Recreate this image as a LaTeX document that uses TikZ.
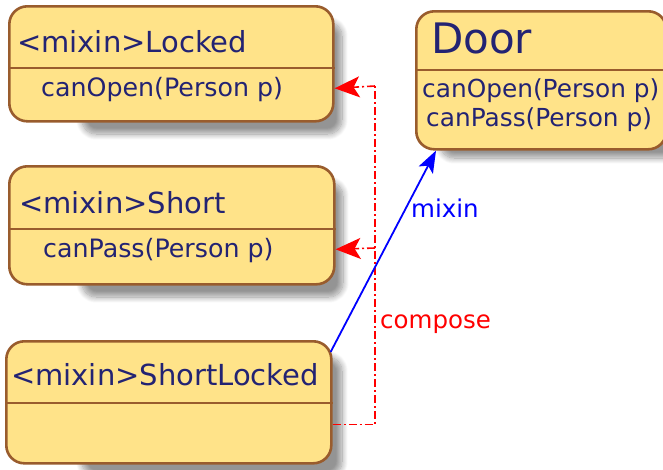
\documentclass[tikz,border=0pt]{standalone}
\usepackage{fontspec}
\setmainfont{DejaVu Sans}
\usetikzlibrary{arrows.meta,shadows.blur}
\definecolor{boxfill}{RGB}{255,227,137}
\definecolor{boxline}{RGB}{153,92,45}
\definecolor{txt}{RGB}{35,35,115}
\tikzset{
  umlbox/.style={draw=boxline, fill=boxfill, line width=2.6pt, rounded corners=18pt, inner sep=0pt, anchor=north west},
  sep/.style={draw=boxline, line width=2.6pt},
  shad/.style={blur shadow={shadow xshift=0pt, shadow yshift=0pt, shadow blur radius=6pt, shadow opacity=42, shadow blur steps=12}},
  titletext/.style={anchor=base west, inner sep=0pt, text=txt, font=\fontsize{29}{31}\selectfont},
  methtext/.style={anchor=base west, inner sep=0pt, text=txt, font=\fontsize{25.3}{28}\selectfont},
  composeline/.style={draw=red, line width=1.6pt, dash pattern=on 8pt off 3pt on 2pt off 3pt},
  mixinline/.style={draw=blue, line width=1.8pt},
  redtip/.style={-{Stealth[length=25pt,width=21pt,inset=6pt]}},
  bluetip/.style={-{Stealth[length=22pt,width=16pt,inset=5pt]}},
  lbl/.style={anchor=west, inner sep=0pt, font=\fontsize{24.5}{26}\selectfont}
}
\begin{document}
\begin{tikzpicture}[x=1pt,y=-1pt]
\useasboundingbox (0,0) rectangle (663,469);
% shadows
\path[shad, rounded corners=14pt] (82,22) rectangle (342,134);
\path[shad, rounded corners=14pt] (82,182) rectangle (343,297);
\path[shad, rounded corners=14pt] (82,357) rectangle (342,476);
\path[shad, rounded corners=14pt] (440,26) rectangle (680,158);
% boxes
\node[umlbox, minimum width=324pt, minimum height=115pt] (lk) at (8,5) {};
\node[umlbox, minimum width=325pt, minimum height=118pt] (sh) at (8,165) {};
\node[umlbox, minimum width=325pt, minimum height=122pt] (sl) at (5,340) {};
\node[umlbox, minimum width=250pt, minimum height=138pt] (door) at (415,10) {};
% separators
\draw[sep] (lk.west |- 0,68) -- (lk.east |- 0,68);
\draw[sep] (sh.west |- 0,229) -- (sh.east |- 0,229);
\draw[sep] (sl.west |- 0,403) -- (sl.east |- 0,403);
\draw[sep] (door.west |- 0,70) -- (door.east |- 0,70);
% texts
\node[titletext] (lkT) at (17,52) {<mixin>Locked};
\node[methtext] (lkM) at (41,96) {canOpen(Person p)};
\node[titletext] (shT) at (19,213) {<mixin>Short};
\node[methtext] (shM) at (43,257) {canPass(Person p)};
\node[titletext] (slT) at (11,385) {<mixin>ShortLocked};
\node[titletext, font=\fontsize{42}{44}\selectfont] (doorT) at (431,53) {Door};
\node[methtext, font=\fontsize{24.8}{28}\selectfont] (doorM1) at (422,97) {canOpen(Person p)};
\node[methtext, font=\fontsize{24.8}{28}\selectfont] (doorM2) at (426,126) {canPass(Person p)};
% connectors
\coordinate (slout) at ([yshift=-22pt]sl.east);
\coordinate (jtop) at (375,86);
\coordinate (jmid) at (375,248);
\draw[composeline] (slout) -| (jtop);
\draw[composeline, redtip] (jtop) -- ([yshift=-24.5pt]lk.east);
\draw[composeline, redtip] (jmid) -- ([yshift=-24pt]sh.east);
\node[lbl, text=red] (composeL) at (380,324) {compose};
\coordinate (mixfrom) at ([shift={(-2pt,-12pt)}]sl.north east);
\draw[mixinline, bluetip] (mixfrom) -- ([xshift=21pt]door.south west);
\node[lbl, text=blue] (mixinL) at (411,208) {mixin};
\end{tikzpicture}
\end{document}
